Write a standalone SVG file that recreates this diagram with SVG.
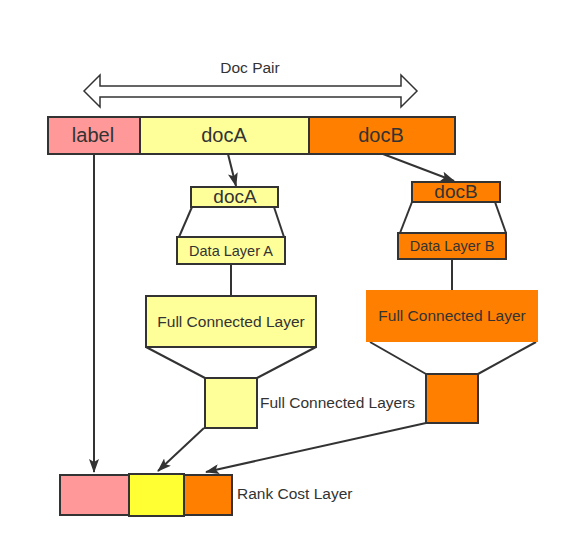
<svg xmlns="http://www.w3.org/2000/svg" width="568" height="546" viewBox="0 0 568 546">
<defs>
<style>
text{font-family:"Liberation Sans",Arial,sans-serif;fill:#333}
.b{stroke:#333;stroke-width:2}
.l{stroke:#333;stroke-width:2;fill:none}
.pink{fill:#ff9999}
.yel{fill:#ffff99}
.org{fill:#ff8000}
.big{font-size:20px}
.mid{font-size:15.5px}
.sm{font-size:14.5px}
</style>
<marker id="ah" viewBox="0 0 14 10" refX="13" refY="5" markerWidth="14" markerHeight="10" markerUnits="userSpaceOnUse" orient="auto">
<path d="M0,0 L14,5 L0,10 L3,5 z" fill="#333"/>
</marker>
</defs>
<rect width="568" height="546" fill="#fff"/>
<g id="docpair">
<text x="250" y="73" class="mid" text-anchor="middle">Doc Pair</text>
<path d="M84,91 L100,75 L100,86 L401,86 L401,75 L417,91 L401,107 L401,97 L100,97 L100,107 Z" fill="#fff" stroke="#333" stroke-width="1.5"/>
</g>
<g id="input">
<rect x="48" y="117" width="92" height="37" class="b pink"/>
<rect x="140" y="117" width="169" height="37" class="b yel"/>
<rect x="309" y="117" width="146" height="37" class="b org"/>
<text x="93" y="142" class="big" text-anchor="middle">label</text>
<text x="224" y="142" class="big" text-anchor="middle">docA</text>
<text x="381" y="142" class="big" text-anchor="middle">docB</text>
</g>
<g id="connectors">
<line x1="228" y1="154" x2="236" y2="186" class="l" marker-end="url(#ah)"/>
<line x1="383" y1="154" x2="454" y2="181" class="l" marker-end="url(#ah)"/>
<line x1="192" y1="207" x2="179" y2="237" class="l"/>
<line x1="274" y1="207" x2="284" y2="237" class="l"/>
<line x1="412" y1="202" x2="400" y2="233" class="l"/>
<line x1="495" y1="202" x2="506" y2="233" class="l"/>
<line x1="231" y1="264" x2="231" y2="296" class="l"/>
<line x1="452" y1="259" x2="452" y2="290" class="l"/>
<line x1="146" y1="347" x2="205" y2="378" class="l"/>
<line x1="316" y1="347" x2="257" y2="378" class="l"/>
<line x1="370" y1="342" x2="426" y2="374" class="l"/>
<line x1="536" y1="342" x2="478" y2="374" class="l"/>
<line x1="94" y1="154" x2="94" y2="472" class="l" marker-end="url(#ah)"/>
<line x1="204" y1="428" x2="158" y2="471" class="l" marker-end="url(#ah)"/>
<line x1="426" y1="423" x2="206" y2="472" class="l" marker-end="url(#ah)"/>
</g>
<g id="docA">
<rect x="191" y="187" width="87" height="20" class="b yel"/>
<text x="235" y="203" font-size="19" text-anchor="middle">docA</text>
</g>
<g id="docB">
<rect x="412" y="182" width="88" height="20" class="b org"/>
<text x="456" y="198" font-size="19" text-anchor="middle">docB</text>
</g>
<g id="dataA">
<rect x="177" y="237" width="108" height="27" class="b yel"/>
<text x="231" y="256" class="sm" text-anchor="middle">Data Layer A</text>
</g>
<g id="dataB">
<rect x="398" y="233" width="108" height="26" class="b org"/>
<text x="452" y="251" class="sm" text-anchor="middle">Data Layer B</text>
</g>
<g id="fcA">
<rect x="146" y="296" width="170" height="51" class="b yel"/>
<text x="231" y="327" class="mid" text-anchor="middle">Full Connected Layer</text>
</g>
<g id="fcB">
<rect x="366" y="290" width="172" height="52" class="org"/>
<text x="452" y="321" class="mid" text-anchor="middle">Full Connected Layer</text>
</g>
<g id="fcsA">
<rect x="205" y="378" width="52" height="50" class="b yel"/>
<text x="260" y="408" class="mid">Full Connected Layers</text>
</g>
<g id="fcsB">
<rect x="426" y="374" width="52" height="49" class="b org"/>
</g>
<g id="rank">
<rect x="60" y="475" width="70" height="40" class="b pink"/>
<rect x="184" y="475" width="48" height="40" class="b org"/>
<rect x="129" y="474" width="55" height="42" class="b" fill="#ffff33"/>
<text x="237" y="499" class="mid">Rank Cost Layer</text>
</g>
</svg>
